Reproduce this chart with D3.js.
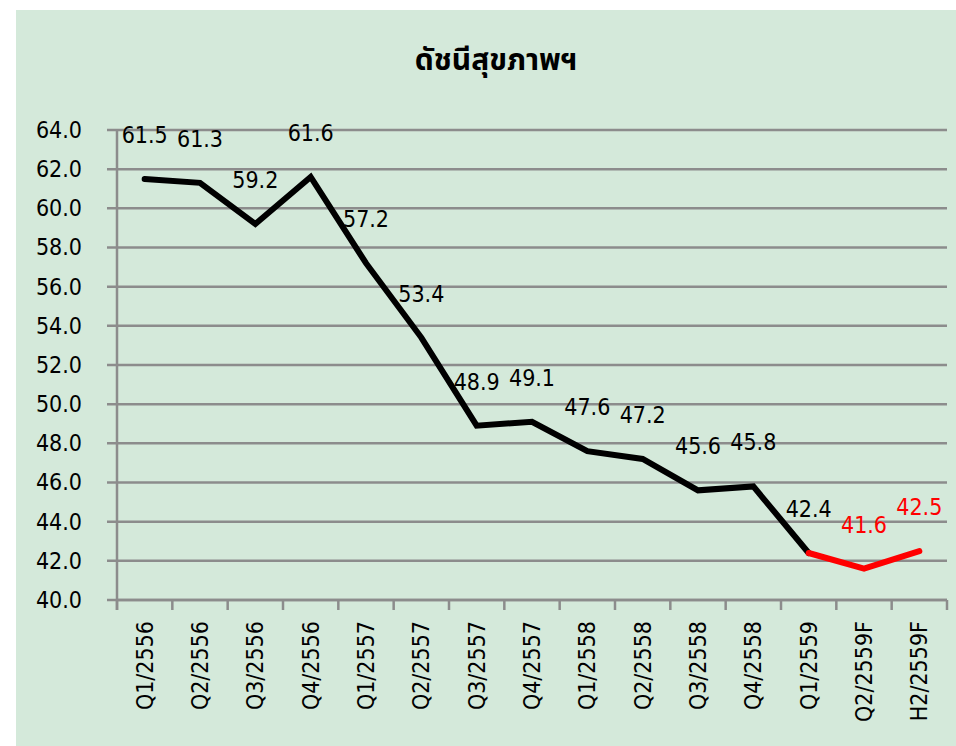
<!DOCTYPE html>
<html>
<head>
<meta charset="utf-8">
<script src="https://cdn.jsdelivr.net/npm/d3@7"></script>
<style>
  html, body { margin: 0; padding: 0; background: #ffffff; }
  svg { display: block; }
  text { font-family: "DejaVu Sans Condensed", "DejaVu Sans", sans-serif; }
</style>
</head>
<body>
<div id="chart"></div>
<script>
const title = "ดัชนีสุขภาพฯ"
const categories = ["Q1/2556", "Q2/2556", "Q3/2556", "Q4/2556", "Q1/2557", "Q2/2557", "Q3/2557", "Q4/2557",
  "Q1/2558", "Q2/2558", "Q3/2558", "Q4/2558", "Q1/2559", "Q2/2559F", "H2/2559F"]
const values = [61.5, 61.3, 59.2, 61.6, 57.2, 53.4, 48.9, 49.1, 47.6, 47.2, 45.6, 45.8, 42.4, 41.6, 42.5]
const yTicks = [40, 42, 44, 46, 48, 50, 52, 54, 56, 58, 60, 62, 64]
const forecastStart = 12 // Q1/2559 onward is drawn in red

const width = 956, height = 746
const margin = { top: 130, right: 9, bottom: 146, left: 117 }
const fontSize = 23

const svg = d3.select("#chart")
  .append("svg")
  .attr("width", width)
  .attr("height", height)

svg.append("rect")
  .attr("x", 16).attr("y", 10)
  .attr("width", width - 16).attr("height", height - 10)
  .attr("fill", "#d4e9da")

svg.append("text")
  .attr("x", 496).attr("y", 70)
  .attr("text-anchor", "middle")
  .attr("font-size", 30)
  .attr("font-weight", "bold")
  .style("font-family", "Tahoma, 'Noto Sans Thai', 'Noto Sans', 'DejaVu Sans', sans-serif")
  .text(title)

const x = d3.scaleBand()
  .domain(categories)
  .range([margin.left, width - margin.right])

const y = d3.scaleLinear()
  .domain([40, 64])
  .range([height - margin.bottom, margin.top])

// gridlines
svg.append("g")
  .selectAll("line")
  .data(yTicks)
  .join("line")
  .attr("x1", margin.left - 10)
  .attr("x2", width - margin.right)
  .attr("y1", d => y(d))
  .attr("y2", d => y(d))
  .attr("stroke", "#8c8c8c")
  .attr("stroke-width", 2.5)

// y axis
const yAxis = svg.append("g")
  .attr("transform", `translate(${margin.left},0)`)
  .call(d3.axisLeft(y).tickValues(yTicks).tickFormat(d3.format(".1f")).tickSize(10).tickPadding(25))
yAxis.select(".domain").remove()
yAxis.selectAll("line").remove()
yAxis.selectAll("text")
  .attr("font-size", fontSize)
  .attr("fill", "#000")
  .style("font-family", null)

svg.append("line")
  .attr("x1", margin.left).attr("x2", margin.left)
  .attr("y1", margin.top).attr("y2", height - margin.bottom + 10)
  .attr("stroke", "#8c8c8c")
  .attr("stroke-width", 2.5)

// x axis
const xAxis = svg.append("g")
  .attr("transform", `translate(0,${height - margin.bottom})`)
  .call(d3.axisBottom(x).tickSize(0).tickPadding(0))
xAxis.select(".domain")
  .attr("stroke", "#8c8c8c")
  .attr("stroke-width", 2.5)
  .attr("d", `M${margin.left},0H${width - margin.right}`)
xAxis.selectAll(".tick text")
  .attr("font-size", fontSize)
  .attr("fill", "#000")
  .style("font-family", null)
  .attr("text-anchor", "end")
  .attr("dy", "0.35em")
  .attr("transform", "translate(0,21) rotate(-90)")

svg.append("g")
  .selectAll("line")
  .data(d3.range(categories.length + 1))
  .join("line")
  .attr("x1", i => margin.left + i * x.bandwidth())
  .attr("x2", i => margin.left + i * x.bandwidth())
  .attr("y1", height - margin.bottom)
  .attr("y2", height - margin.bottom + 10)
  .attr("stroke", "#8c8c8c")
  .attr("stroke-width", 2.5)

const cx = i => x(categories[i]) + x.bandwidth() / 2

const line = d3.line()
  .x(d => cx(d.i))
  .y(d => y(d.v))

const points = values.map((v, i) => ({ v, i }))

svg.append("path")
  .attr("d", line(points.slice(0, forecastStart + 1)))
  .attr("fill", "none")
  .attr("stroke", "#000")
  .attr("stroke-width", 6)
  .attr("stroke-linecap", "round")

svg.append("path")
  .attr("d", line(points.slice(forecastStart)))
  .attr("fill", "none")
  .attr("stroke", "#ff0000")
  .attr("stroke-width", 6)
  .attr("stroke-linecap", "round")

svg.append("g")
  .selectAll("text")
  .data(points)
  .join("text")
  .attr("x", d => cx(d.i))
  .attr("y", d => y(d.v) - 36)
  .attr("text-anchor", "middle")
  .attr("font-size", fontSize)
  .attr("fill", d => d.i > forecastStart ? "#ff0000" : "#000")
  .text(d => d.v.toFixed(1))
</script>
</body>
</html>
